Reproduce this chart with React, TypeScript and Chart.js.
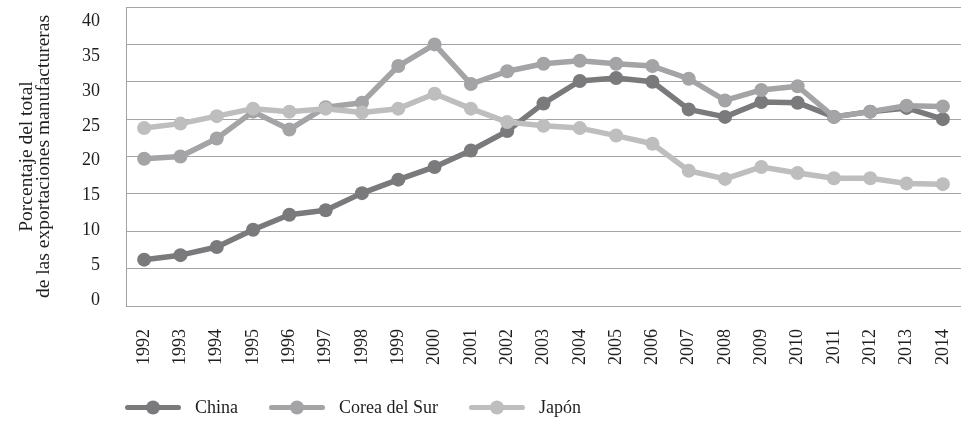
import React, { useEffect, useRef } from 'react';
import { Chart, registerables } from 'chart.js';

Chart.register(...registerables);

const YEARS = ['1992', '1993', '1994', '1995', '1996', '1997', '1998', '1999', '2000', '2001', '2002', '2003', '2004', '2005', '2006', '2007', '2008', '2009', '2010', '2011', '2012', '2013', '2014'];
const CHINA = [6.2, 6.8, 7.9, 10.2, 12.2, 12.8, 15.1, 16.9, 18.6, 20.8, 23.4, 27.1, 30.1, 30.5, 30.0, 26.3, 25.3, 27.3, 27.2, 25.3, 26.0, 26.5, 25.0];
const KOREA = [19.7, 20.0, 22.4, 26.0, 23.6, 26.6, 27.2, 32.1, 35.0, 29.7, 31.4, 32.4, 32.8, 32.4, 32.1, 30.4, 27.5, 28.9, 29.4, 25.3, 26.0, 26.8, 26.7];
const JAPAN = [23.8, 24.4, 25.4, 26.4, 26.0, 26.4, 25.9, 26.4, 28.4, 26.4, 24.6, 24.1, 23.8, 22.8, 21.7, 18.1, 17.0, 18.6, 17.8, 17.1, 17.1, 16.4, 16.3];
const Y_TICKS = [0, 5, 10, 15, 20, 25, 30, 35, 40];
const Y_TITLE = ['Porcentaje del total', 'de las exportaciones manufactureras'];
const SERIES_NAMES = ['China', 'Corea del Sur', 'Japón'];
const COLORS = ['#7a7a7c', '#a4a4a6', '#bebebf'];

const FONT = "'Liberation Serif', 'Times New Roman', serif";
const TEXT_COLOR = '#1e1e1e';
const GRID_COLOR = '#a3a3a3';

const lineLegend = {
  id: 'lineLegend',
  afterDraw(chart: any) {
    const ctx = chart.ctx;
    ctx.save();
    ctx.font = `18px ${FONT}`;
    ctx.textBaseline = 'middle';
    let x = 125;
    const y = 407.5;
    chart.data.datasets.forEach((ds: any) => {
      ctx.strokeStyle = ds.borderColor;
      ctx.lineWidth = 5;
      ctx.lineCap = 'round';
      ctx.beginPath();
      ctx.moveTo(x + 2.5, y);
      ctx.lineTo(x + 53.5, y);
      ctx.stroke();
      ctx.fillStyle = ds.borderColor;
      ctx.beginPath();
      ctx.arc(x + 28, y, 7, 0, Math.PI * 2);
      ctx.fill();
      ctx.fillStyle = TEXT_COLOR;
      ctx.fillText(ds.label, x + 70, y + 1);
      x = x + 70 + ctx.measureText(ds.label).width + 31;
    });
    ctx.restore();
  },
};

export default function App() {
  const canvasRef = useRef<HTMLCanvasElement | null>(null);

  useEffect(() => {
    document.body.style.margin = '0';
    const canvas = canvasRef.current;
    if (!canvas) return;
    const series = [CHINA, KOREA, JAPAN];
    const chart = new Chart(canvas, {
      type: 'line',
      data: {
        labels: YEARS,
        datasets: series.map((values, i) => ({
          label: SERIES_NAMES[i],
          data: values,
          borderColor: COLORS[i],
          backgroundColor: COLORS[i],
          pointBackgroundColor: COLORS[i],
          pointBorderWidth: 0,
          pointRadius: 7,
          borderWidth: 5.5,
          borderJoinStyle: 'round' as const,
          tension: 0,
          order: 3 - i,
        })),
      },
      options: {
        animation: false,
        responsive: true,
        maintainAspectRatio: false,
        layout: { padding: { top: 7, right: 0, bottom: 0, left: 0 } },
        plugins: {
          legend: { display: false },
          tooltip: { enabled: false },
        },
        scales: {
          x: {
            type: 'category',
            offset: true,
            grid: { display: false, drawTicks: false },
            border: { display: false },
            ticks: {
              minRotation: 90,
              maxRotation: 90,
              padding: 23,
              color: TEXT_COLOR,
              font: { family: FONT, size: 18 },
              autoSkip: false,
            },
            afterFit: (scale: any) => {
              scale.height = 120;
              scale.paddingLeft = 0;
              scale.paddingRight = 0;
            },
          },
          y: {
            type: 'linear',
            position: 'left',
            weight: 0,
            min: 0,
            max: 40,
            grid: { color: GRID_COLOR, lineWidth: 1, drawTicks: false },
            border: { display: true, color: GRID_COLOR, width: 1 },
            ticks: { display: false, stepSize: 5 },
            afterFit: (scale: any) => {
              scale.width = 0;
              scale.paddingTop = 0;
              scale.paddingBottom = 0;
            },
          },
          yl: {
            type: 'linear',
            position: 'left',
            weight: 1,
            min: -0.862,
            max: 42.08,
            grid: { display: false, drawTicks: false },
            border: { display: false },
            afterBuildTicks: (scale: any) => {
              scale.ticks = Y_TICKS.map((v) => ({ value: v }));
            },
            ticks: {
              padding: 26,
              color: TEXT_COLOR,
              font: { family: FONT, size: 18 },
            },
            title: {
              display: true,
              text: Y_TITLE,
              color: TEXT_COLOR,
              font: { family: FONT, size: 19.5, lineHeight: 17 / 19.5 },
              padding: { top: 18.5, bottom: 0 },
            },
            afterFit: (scale: any) => {
              scale.width = 126;
              scale.paddingTop = 0;
              scale.paddingBottom = 0;
            },
          },
        },
      } as any,
      plugins: [lineLegend],
    });
    return () => chart.destroy();
  }, []);

  return (
    <div style={{ position: 'relative', width: '968px', height: '426px' }}>
      <canvas ref={canvasRef} />
    </div>
  );
}
